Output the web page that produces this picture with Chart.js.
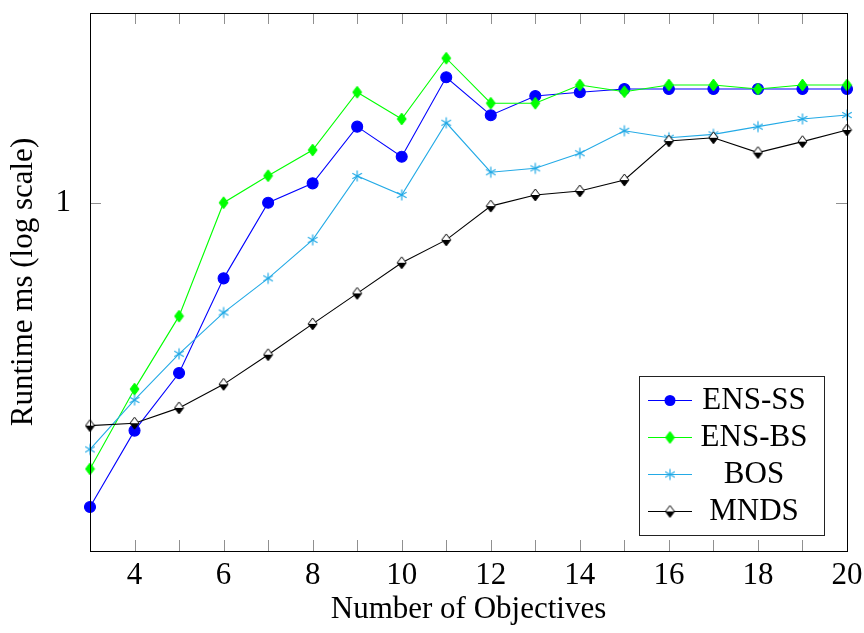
<!DOCTYPE html>
<html>
<head>
<meta charset="utf-8">
<script src="https://cdn.jsdelivr.net/npm/chart.js@4.4.0/dist/chart.umd.min.js"></script>
<style>
  html, body { margin: 0; padding: 0; background: #fff; }
</style>
</head>
<body>
<canvas id="runtimeChart" width="864" height="633"></canvas>
<script>
// Data (runtime in ms, log scale)
const objectives = [3, 4, 5, 6, 7, 8, 9, 10, 11, 12, 13, 14, 15, 16, 17, 18, 19, 20];
const ensSS = [0.311, 0.417, 0.520, 0.748, 1.000, 1.077, 1.339, 1.193, 1.618, 1.399, 1.506, 1.528, 1.547, 1.547, 1.547, 1.547, 1.547, 1.547];
const ensBS = [0.360, 0.489, 0.647, 1.000, 1.109, 1.224, 1.528, 1.379, 1.741, 1.465, 1.465, 1.571, 1.531, 1.571, 1.571, 1.547, 1.571, 1.571];
const bos = [0.388, 0.469, 0.560, 0.656, 0.748, 0.867, 1.108, 1.030, 1.359, 1.124, 1.141, 1.209, 1.318, 1.283, 1.300, 1.339, 1.379, 1.400];
const mnds = [0.425, 0.429, 0.455, 0.498, 0.558, 0.628, 0.706, 0.794, 0.867, 0.987, 1.030, 1.046, 1.091, 1.267, 1.283, 1.212, 1.264, 1.322];
const seriesNames = ["ENS-SS", "ENS-BS", "BOS", "MNDS"];
const yTickValues = [1];
const yMin = 0.2627;
const yMax = 2.071;

const FONT = "'Liberation Serif', 'Times New Roman', serif";
Chart.defaults.font.family = FONT;
Chart.defaults.color = "#000";

// marker images (pgfplots style marks)
const makeDiamond = (topFill, bottomFill, stroke, w, h) => {
  const c = document.createElement("canvas");
  c.width = w + 2;
  c.height = h + 2;
  const ctx = c.getContext("2d");
  const cx = c.width / 2, cy = c.height / 2;
  const path = () => {
    ctx.beginPath();
    ctx.moveTo(cx, cy - h / 2);
    ctx.lineTo(cx + w / 2, cy);
    ctx.lineTo(cx, cy + h / 2);
    ctx.lineTo(cx - w / 2, cy);
    ctx.closePath();
  };
  ctx.save();
  path();
  ctx.clip();
  ctx.fillStyle = topFill;
  ctx.fillRect(0, 0, c.width, cy);
  ctx.fillStyle = bottomFill;
  ctx.fillRect(0, cy, c.width, c.height - cy);
  ctx.restore();
  path();
  ctx.strokeStyle = stroke;
  ctx.lineWidth = 1;
  ctx.stroke();
  return c;
};

const makeAsterisk = (color, r) => {
  const c = document.createElement("canvas");
  c.width = Math.ceil(r * 2 + 3);
  c.height = c.width;
  const ctx = c.getContext("2d");
  const cx = c.width / 2, cy = c.height / 2;
  ctx.strokeStyle = color;
  ctx.lineWidth = 1.2;
  [90, 30, 150].forEach((deg) => {
    const a = (deg * Math.PI) / 180;
    ctx.beginPath();
    ctx.moveTo(cx - r * Math.cos(a), cy - r * Math.sin(a));
    ctx.lineTo(cx + r * Math.cos(a), cy + r * Math.sin(a));
    ctx.stroke();
  });
  return c;
};

const greenDiamond = makeDiamond("#00ff00", "#00ff00", "#00ff00", 9, 12);
const halfDiamond = makeDiamond("#ffffff", "#000000", "#000000", 9, 12);
const bosStar = makeAsterisk("#23aae6", 5.5);

const toPoints = (values) => objectives.map((o, i) => ({ x: o, y: values[i] }));

// frame, inward ticks and the legend box
const framePlugin = {
  id: "frame",
  afterDraw(chart) {
    const { ctx, chartArea: a, scales } = chart;
    ctx.save();
    // ticks
    ctx.strokeStyle = "#909090";
    ctx.lineWidth = 1;
    const tl = 11;
    objectives.forEach((v) => {
      const px = Math.round(scales.x.getPixelForValue(v)) + 0.5;
      ctx.beginPath();
      ctx.moveTo(px, a.bottom);
      ctx.lineTo(px, a.bottom - tl);
      ctx.moveTo(px, a.top);
      ctx.lineTo(px, a.top + tl);
      ctx.stroke();
    });
    yTickValues.forEach((v) => {
      const py = Math.round(scales.y.getPixelForValue(v)) + 0.5;
      ctx.beginPath();
      ctx.moveTo(a.left, py);
      ctx.lineTo(a.left + tl, py);
      ctx.moveTo(a.right, py);
      ctx.lineTo(a.right - tl, py);
      ctx.stroke();
    });
    // axis frame
    ctx.strokeStyle = "#000";
    ctx.strokeRect(Math.round(a.left) + 0.5, Math.round(a.top) + 0.5,
      Math.round(a.right - a.left), Math.round(a.bottom - a.top));

    // legend
    const box = { left: a.right - 208, top: a.bottom - 175, right: a.right - 23, bottom: a.bottom - 16 };
    ctx.fillStyle = "#fff";
    ctx.fillRect(box.left, box.top, box.right - box.left, box.bottom - box.top);
    ctx.strokeStyle = "#222";
    ctx.strokeRect(box.left + 0.5, box.top + 0.5, box.right - box.left, box.bottom - box.top);
    chart.data.datasets.forEach((ds, i) => {
      const y = box.top + 24.5 + i * 37;
      ctx.strokeStyle = ds.borderColor;
      ctx.lineWidth = ds.borderWidth;
      ctx.beginPath();
      ctx.moveTo(box.left + 9, y);
      ctx.lineTo(box.left + 53, y);
      ctx.stroke();
      const mx = box.left + 31;
      if (ds.pointStyle instanceof HTMLCanvasElement) {
        const img = ds.pointStyle;
        ctx.drawImage(img, mx - img.width / 2, y - img.height / 2);
      } else {
        ctx.fillStyle = ds.pointBackgroundColor;
        ctx.beginPath();
        ctx.arc(mx, y, ds.pointRadius, 0, Math.PI * 2);
        ctx.fill();
      }
      ctx.fillStyle = "#000";
      ctx.font = "31px " + FONT;
      ctx.textAlign = "center";
      ctx.textBaseline = "middle";
      ctx.fillText(ds.label, box.left + 115, y);
    });
    ctx.restore();
  },
};

const runtimeChart = new Chart(document.getElementById("runtimeChart"), {
  type: "line",
  data: {
    datasets: [
      {
        label: seriesNames[0],
        data: toPoints(ensSS),
        borderColor: "#0000ff",
        backgroundColor: "#0000ff",
        pointBackgroundColor: "#0000ff",
        pointBorderColor: "#0000ff",
        pointStyle: "circle",
        pointRadius: 5.5,
        borderWidth: 1.1,
        order: 4,
      },
      {
        label: seriesNames[1],
        data: toPoints(ensBS),
        borderColor: "#00ff00",
        backgroundColor: "#00ff00",
        pointStyle: greenDiamond,
        pointRadius: 6,
        borderWidth: 1.1,
        order: 3,
      },
      {
        label: seriesNames[2],
        data: toPoints(bos),
        borderColor: "#23aae6",
        backgroundColor: "#23aae6",
        pointStyle: bosStar,
        pointRadius: 6,
        borderWidth: 1.1,
        order: 2,
      },
      {
        label: seriesNames[3],
        data: toPoints(mnds),
        borderColor: "#000000",
        backgroundColor: "#000000",
        pointStyle: halfDiamond,
        pointRadius: 6,
        borderWidth: 1.1,
        order: 1,
      },
    ],
  },
  options: {
    responsive: false,
    animation: false,
    clip: false,
    layout: { padding: { left: 0, top: 13, right: 17, bottom: 0 } },
    elements: { line: { tension: 0, fill: false } },
    plugins: {
      legend: { display: false },
      tooltip: { enabled: false },
    },
    scales: {
      x: {
        type: "linear",
        min: 3,
        max: 20,
        grid: { display: false },
        border: { display: false },
        ticks: {
          stepSize: 1,
          autoSkip: false,
          maxRotation: 0,
          padding: -2,
          font: { size: 31 },
          callback: (v) => (v % 2 === 0 ? String(v) : ""),
        },
        title: {
          display: true,
          text: "Number of Objectives",
          font: { size: 31 },
          padding: { top: 0, bottom: 5 },
        },
        afterFit: (scale) => {
          scale.height = 82;
          scale.paddingLeft = 0;
          scale.paddingRight = 0;
        },
      },
      y: {
        type: "logarithmic",
        min: yMin,
        max: yMax,
        grid: { display: false },
        border: { display: false },
        ticks: {
          padding: 11,
          font: { size: 31 },
          callback: (v) => (yTickValues.includes(v) ? String(v) : ""),
        },
        afterBuildTicks: (scale) => {
          scale.ticks = yTickValues.map((v) => ({ value: v }));
        },
        title: {
          display: true,
          text: "Runtime ms (log scale)",
          font: { size: 31 },
          padding: { top: 5, bottom: 0 },
        },
        afterFit: (scale) => {
          scale.width = 90;
          scale.paddingTop = 0;
          scale.paddingBottom = 0;
        },
      },
    },
  },
  plugins: [framePlugin],
});
</script>
</body>
</html>
